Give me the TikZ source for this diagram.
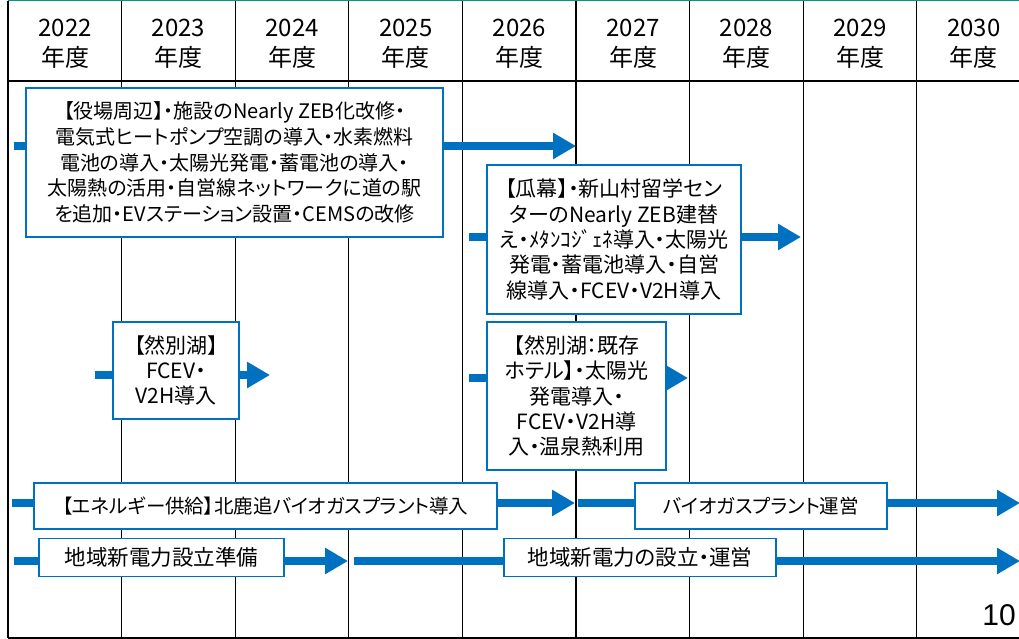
\documentclass[tikz,border=0pt]{standalone}
\usepackage{fontspec}
\setmainfont{Noto Sans CJK JP}[RawFeature={+palt}]
\newfontfamily\pagefont{Liberation Sans}
\usetikzlibrary{arrows.meta,backgrounds}
\definecolor{planblue}{RGB}{0,112,192}
\definecolor{topteal}{RGB}{0,150,130}
\begin{document}
\begin{tikzpicture}[x=1pt,y=-1pt,
		plan/.style={draw=planblue,line width=1.8pt,fill=white,align=center,inner sep=0pt,font=\fontsize{21}{25.3}\selectfont},
		flow/.style={draw=planblue,line width=8pt,-{Triangle[length=23pt,width=25pt]}},
		yearlabel/.style={align=center,font=\fontsize{24}{30}\selectfont}]
				\useasboundingbox (0,0) rectangle (1019,639);
				\foreach \yr [count=\i from 0] in {2022,...,2030}
					\node[yearlabel] (y\yr) at (65+113.6*\i,44) {\yr\\年度};
				% boxes
				\node[plan,font=\fontsize{20}{25.8}\selectfont,minimum width=417,minimum height=149] (yakuba) at (234.5,162.5) {【役場周辺】・施設のNearly ZEB化改修・\\電気式ヒートポンプ空調の導入・水素燃料\\電池の導入・太陽光発電・蓄電池の導入・\\太陽熱の活用・自営線ネットワークに道の駅\\を追加・EVステーション設置・CEMSの改修};
				\node[plan,minimum width=254,minimum height=149] (urimaku) at (614,239.5) {【瓜幕】・新山村留学セン\\ターのNearly ZEB建替\\え・ﾒﾀﾝｺｼﾞｪﾈ導入・太陽光\\発電・蓄電池導入・自営\\線導入・FCEV・V2H導入};
				\node[plan,minimum width=126,minimum height=97] (shikaribetsu) at (176,370.5) {【然別湖】\\FCEV・\\V2H導入};
				\node[plan,minimum width=179,minimum height=148] (hotel) at (576.5,396) {【然別湖：既存\\ホテル】・太陽光\\発電導入・\\FCEV・V2H導\\入・温泉熱利用};
				\node[plan,font=\fontsize{19.5}{24}\selectfont,minimum width=463,minimum height=46] (biogas) at (265.5,506) {【エネルギー供給】北鹿追バイオガスプラント導入};
				\node[plan,font=\fontsize{19.5}{24}\selectfont,minimum width=252,minimum height=46] (biogasop) at (761,506) {バイオガスプラント運営};
				\node[plan,font=\fontsize{21.5}{24}\selectfont,minimum width=245,minimum height=38] (denryoku) at (161.5,557.5) {地域新電力設立準備};
				\node[plan,font=\fontsize{21.5}{24}\selectfont,minimum width=272,minimum height=38] (denryokuop) at (640,557.5) {地域新電力の設立・運営};
				\node[font=\pagefont\fontsize{30}{30}\selectfont] (pageno) at (999,615) {10};
				% arrow ends
				\coordinate (yakubaA) at (14,146);
				\coordinate (yakubaB) at (576,146);
				\coordinate (urimakuA) at (469,237);
				\coordinate (urimakuB) at (801,237);
				\coordinate (shikaribetsuA) at (95,375);
				\coordinate (shikaribetsuB) at (270,375);
				\coordinate (hotelA) at (469,378);
				\coordinate (hotelB) at (688,378);
				\coordinate (biogasA) at (12,503);
				\coordinate (biogasB) at (575,503);
				\coordinate (biogasopA) at (578,503);
				\coordinate (biogasopB) at (1020,503);
				\coordinate (denryokuA) at (14,561);
				\coordinate (denryokuB) at (348,561);
				\coordinate (denryokuopA) at (354,561);
				\coordinate (denryokuopB) at (1020,561);
				\begin{scope}[on background layer]
					\draw[line width=1.2pt] (8,81)--(1019,81);
					\draw[line width=1.2pt] (8,638)--(1019,638);
					\foreach \i in {0,...,8} \draw[line width=1.2pt] (8+113.6*\i,1)--(8+113.6*\i,638);
					\draw[topteal,line width=2pt] (8,0.5)--(1019,0.5);
					\foreach \n in {yakuba,urimaku,shikaribetsu,hotel,biogas,biogasop,denryoku,denryokuop}
						\draw[flow] (\n A)--(\n B);
				\end{scope}
			\end{tikzpicture}
\end{document}
